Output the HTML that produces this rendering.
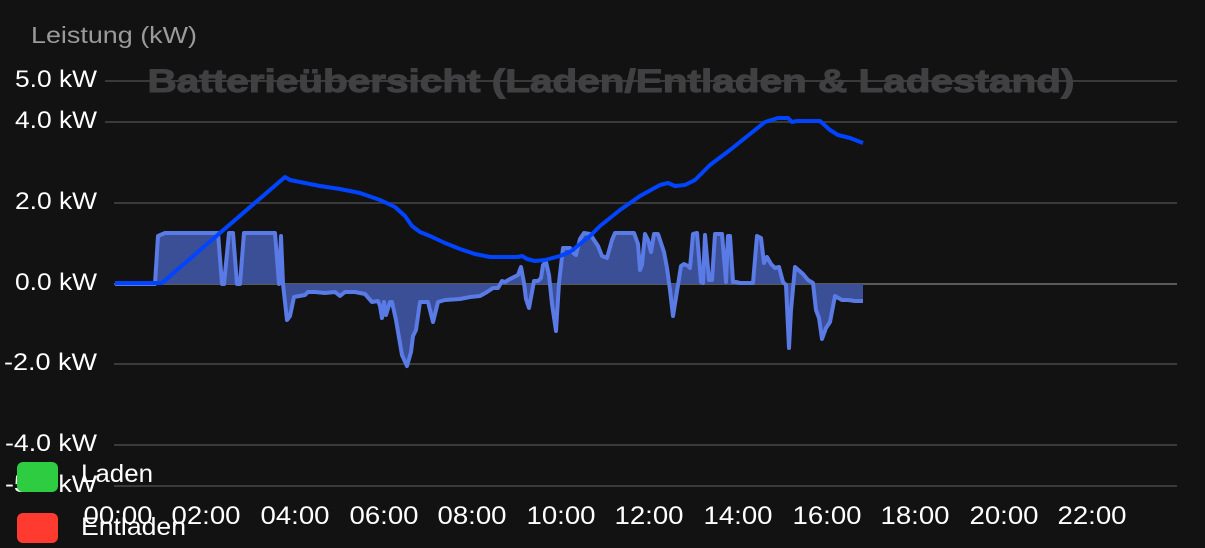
<!DOCTYPE html>
<html><head><meta charset="utf-8"><style>
html,body{margin:0;padding:0;background:#121212;}
svg{display:block;font-family:"Liberation Sans","DejaVu Sans",sans-serif;}
</style></head><body>
<svg width="1205" height="548" viewBox="0 0 1205 548">
<rect width="1205" height="548" fill="#121212"/>
<g stroke="#3a3a3a" stroke-width="2">
<line x1="105" y1="81" x2="1177" y2="81"/>
<line x1="105" y1="122" x2="1177" y2="122"/>
<line x1="114" y1="203" x2="1177" y2="203"/>
<line x1="114" y1="364" x2="1177" y2="364"/>
<line x1="114" y1="445" x2="1177" y2="445"/>
<line x1="114" y1="486" x2="1177" y2="486"/>
</g>
<line x1="114" y1="284" x2="1177" y2="284" stroke="#5a5a5a" stroke-width="2"/>
<text x="611" y="92" text-anchor="middle" font-size="32" font-weight="bold" fill="#404043" stroke="#404043" stroke-width="1" textLength="927" lengthAdjust="spacingAndGlyphs">Batterieübersicht (Laden/Entladen &amp; Ladestand)</text>
<text x="31" y="43" font-size="23" fill="#9a9a9a" textLength="166" lengthAdjust="spacingAndGlyphs">Leistung (kW)</text>
<g font-size="24" fill="#fff" text-anchor="end" lengthAdjust="spacingAndGlyphs">
<text x="97" y="87" textLength="82" lengthAdjust="spacingAndGlyphs">5.0 kW</text>
<text x="97" y="128" textLength="82" lengthAdjust="spacingAndGlyphs">4.0 kW</text>
<text x="97" y="209" textLength="82" lengthAdjust="spacingAndGlyphs">2.0 kW</text>
<text x="97" y="290" textLength="82" lengthAdjust="spacingAndGlyphs">0.0 kW</text>
<text x="97" y="370" textLength="93" lengthAdjust="spacingAndGlyphs">-2.0 kW</text>
<text x="97" y="451" textLength="92" lengthAdjust="spacingAndGlyphs">-4.0 kW</text>
<text x="97" y="492" textLength="92" lengthAdjust="spacingAndGlyphs">-5.0 kW</text>
</g>
<polygon fill="#3a4f96" points="115,284 155,284 158,236 165,233 218,233 222,284 224,284 229,233 233,233 237,284 240,284 244,233 275,233 279,284 281,236 283,284 287,320 290,316 294,297 305,295 308,292 315,292 325,293 335,292 340,296 345,292 355,292 365,294 372,302 378,301 380,306 382,318 384,302 386,315 390,302 392,302 396,320 402,355 407,366 411,352 413,336 416,330 420,302 428,302 433,322 438,302 445,300 460,299 470,297 480,296 487,292 493,288 498,288 502,281 505,282 510,279 518,275 521,267 524,283 526,299 529,308 532,292 534,281 538,281 541,278 543,265 546,262 549,275 552,304 556,331 559,283 563,248 570,248 572,252 576,255 580,239 584,233 590,234 598,246 602,256 607,258 612,240 615,233 634,233 638,244 640,270 642,265 645,234 648,240 651,252 654,234 658,234 664,252 667,268 670,290 673,316 678,285 681,266 684,264 688,266 690,268 693,234 697,233 701,282 703,283 705,235 709,280 712,280 715,234 722,234 726,282 728,236 730,236 733,282 736,282 740,283 753,283 757,236 761,238 764,263 767,257 771,264 775,268 779,267 783,282 786,285 789,348 791,310 795,267 803,274 808,280 813,283 816,310 819,318 822,339 826,328 830,322 835,296 842,300 848,300 855,301 863,301 863,284"/>
<polyline fill="none" stroke="#5a7ae6" stroke-width="4" stroke-linejoin="round" points="115,284 155,284 158,236 165,233 218,233 222,284 224,284 229,233 233,233 237,284 240,284 244,233 275,233 279,284 281,236 283,284 287,320 290,316 294,297 305,295 308,292 315,292 325,293 335,292 340,296 345,292 355,292 365,294 372,302 378,301 380,306 382,318 384,302 386,315 390,302 392,302 396,320 402,355 407,366 411,352 413,336 416,330 420,302 428,302 433,322 438,302 445,300 460,299 470,297 480,296 487,292 493,288 498,288 502,281 505,282 510,279 518,275 521,267 524,283 526,299 529,308 532,292 534,281 538,281 541,278 543,265 546,262 549,275 552,304 556,331 559,283 563,248 570,248 572,252 576,255 580,239 584,233 590,234 598,246 602,256 607,258 612,240 615,233 634,233 638,244 640,270 642,265 645,234 648,240 651,252 654,234 658,234 664,252 667,268 670,290 673,316 678,285 681,266 684,264 688,266 690,268 693,234 697,233 701,282 703,283 705,235 709,280 712,280 715,234 722,234 726,282 728,236 730,236 733,282 736,282 740,283 753,283 757,236 761,238 764,263 767,257 771,264 775,268 779,267 783,282 786,285 789,348 791,310 795,267 803,274 808,280 813,283 816,310 819,318 822,339 826,328 830,322 835,296 842,300 848,300 855,301 863,301"/>
<polyline fill="none" stroke="#0044ff" stroke-width="4" stroke-linejoin="round" points="115,283 162,283 170,276 285,177 290,180 300,182 320,186 340,189 360,193 380,200 395,207 405,216 412,226 420,232 430,236 445,243 460,249 475,254 490,257 500,257 518,257 522,256 527,259 535,261 545,260 560,256 570,252 580,244 590,236 600,226 620,210 640,196 660,185 668,183 675,186 685,185 695,180 710,165 730,150 750,134 765,122 778,118 788,118 792,122 797,121 820,121 830,130 838,135 850,138 863,143"/>
<g font-size="25" fill="#fff" text-anchor="middle">
<text x="118" y="524" textLength="69" lengthAdjust="spacingAndGlyphs">00:00</text>
<text x="206" y="524" textLength="69" lengthAdjust="spacingAndGlyphs">02:00</text>
<text x="295" y="524" textLength="69" lengthAdjust="spacingAndGlyphs">04:00</text>
<text x="384" y="524" textLength="69" lengthAdjust="spacingAndGlyphs">06:00</text>
<text x="472" y="524" textLength="69" lengthAdjust="spacingAndGlyphs">08:00</text>
<text x="561" y="524" textLength="69" lengthAdjust="spacingAndGlyphs">10:00</text>
<text x="649" y="524" textLength="69" lengthAdjust="spacingAndGlyphs">12:00</text>
<text x="738" y="524" textLength="69" lengthAdjust="spacingAndGlyphs">14:00</text>
<text x="827" y="524" textLength="69" lengthAdjust="spacingAndGlyphs">16:00</text>
<text x="915" y="524" textLength="69" lengthAdjust="spacingAndGlyphs">18:00</text>
<text x="1004" y="524" textLength="69" lengthAdjust="spacingAndGlyphs">20:00</text>
<text x="1092" y="524" textLength="69" lengthAdjust="spacingAndGlyphs">22:00</text>
</g>
<rect x="17" y="462" width="41" height="30" rx="6" fill="#2ecc40"/>
<rect x="17" y="513" width="41" height="30" rx="6" fill="#ff3b30"/>
<g font-size="25" fill="#fff">
<text x="81" y="482" textLength="72" lengthAdjust="spacingAndGlyphs">Laden</text>
<text x="81" y="535" textLength="105" lengthAdjust="spacingAndGlyphs">Entladen</text>
</g>
</svg>
</body></html>
